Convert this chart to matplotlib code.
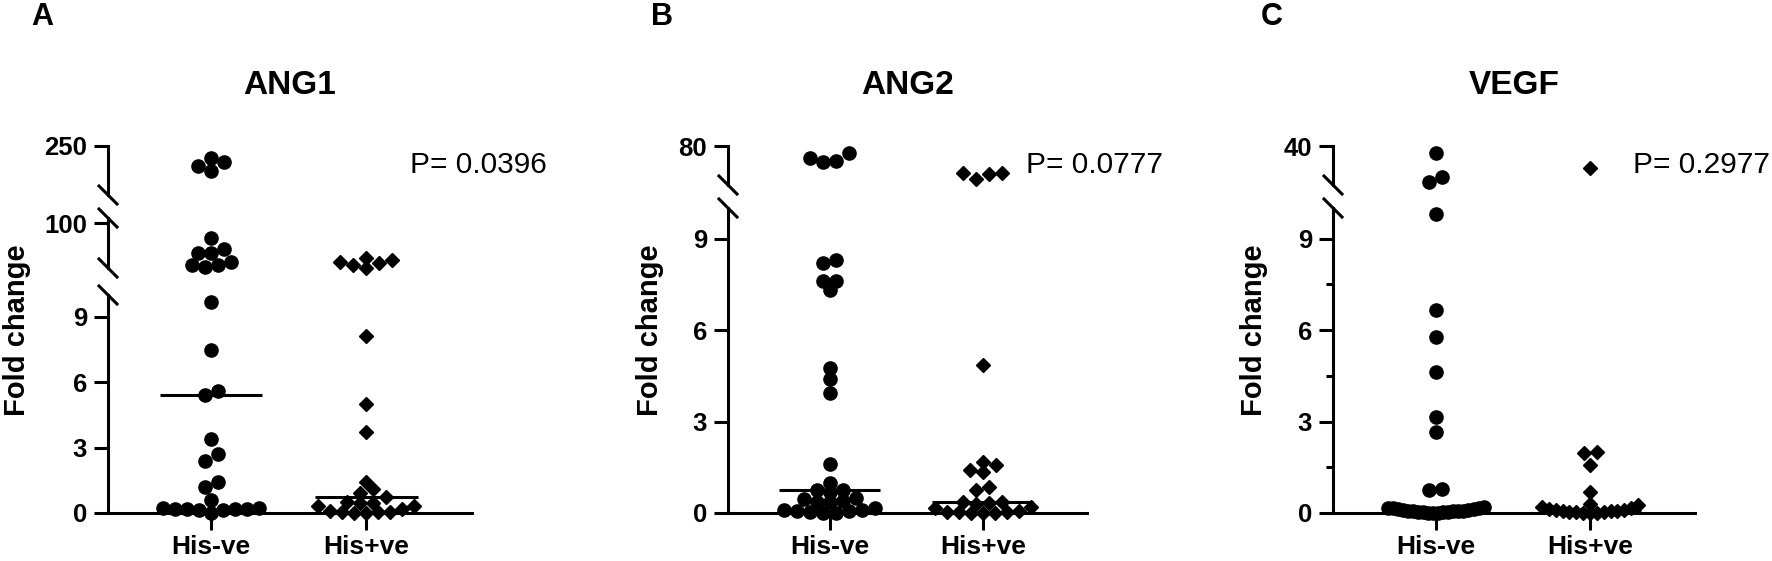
import numpy as np
import matplotlib.pyplot as plt
from matplotlib.lines import Line2D

plt.rcParams['font.family'] = ['Liberation Sans', 'DejaVu Sans']

# figure size in pixels
W, H = 1772, 561

groups = ["His-ve", "His+ve"]

# fold change values
ang1_neg = [225, 217, 209, 199, 70, 48, 40, 40, 22, 16, 16, 12,
            9.7, 7.5, 5.6, 5.4, 3.4, 2.7, 2.4, 1.4, 1.2, 0.6,
            0.25, 0.25, 0.2, 0.2, 0.2, 0.2, 0.15, 0.15, 0.0]
ang1_pos = [30, 26, 22, 20, 16, 11, 8.1, 5.0, 3.7, 1.4, 1.1, 0.9, 0.75,
            0.5, 0.45, 0.45, 0.3, 0.3, 0.2, 0.1, 0.05, 0.05, 0.05, 0.0, 0.0]

ang2_neg = [78.2, 76.9, 76.2, 75.9, 8.3, 8.2, 7.6, 7.6, 7.3, 4.75, 4.4, 3.95,
            1.6, 1.0, 0.75, 0.75, 0.7, 0.5, 0.45, 0.4, 0.35, 0.35,
            0.15, 0.1, 0.1, 0.06, 0.05, 0.02, 0.0, 0.0]
ang2_pos = [73.2, 73.0, 72.8, 71.6, 4.85, 1.67, 1.57, 1.4, 1.35, 0.85, 0.75,
            0.35, 0.35, 0.32, 0.3, 0.2, 0.15, 0.05, 0.03, 0.02, 0.02, 0.0, 0.0, 0.0]

vegf_neg = [36.4, 24.1, 21.5, 9.8, 6.65, 5.77, 4.63, 3.15, 2.66, 0.8, 0.75,
            0.2, 0.18, 0.15, 0.15, 0.12, 0.12, 0.1, 0.1, 0.08, 0.08,
            0.06, 0.05, 0.05, 0.04, 0.03, 0.02, 0.02, 0.01, 0.0, 0.0]
vegf_pos = [28.7, 2.0, 1.97, 1.57, 0.7,
            0.3, 0.25, 0.2, 0.15, 0.12, 0.1, 0.1, 0.08, 0.06, 0.05,
            0.04, 0.03, 0.02, 0.01, 0.0, 0.0]

titles = ["ANG1", "ANG2", "VEGF"]
letters = ["A", "B", "C"]
pvalues = ["P= 0.0396", "P= 0.0777", "P= 0.2977"]

# broken axis segments: (low, high, major ticks, minor ticks)
ang1_segs = [(0, 10, [0, 3, 6, 9], []), (10, 110, [100], []), (150, 250, [250], [])]
ang2_segs = [(0, 10, [0, 3, 6, 9], []), (70, 80, [80], [])]
vegf_segs = [(0, 10, [0, 3, 6, 9], [1.5, 4.5, 7.5]), (20, 40, [40], [])]

# ---- layout (pixels) ----
panel_x = [(108, 472), (728, 1087), (1333, 1695)]
seg_pix = [[(513, 295), (268, 218), (195, 146)],
           [(513, 208), (185, 146)],
           [(513, 208), (185, 146)]]
XLIM = (-0.665, 1.68)
LW = 2.2
DIAM = 13.0   # marker diameter in px
fig = plt.figure(figsize=(W / 100, H / 100), dpi=100)


def rect(x0, x1, ytop, ybot):
    return [x0 / W, 1 - ybot / H, (x1 - x0) / W, (ybot - ytop) / H]


def find_seg(v, segs):
    for i, s in enumerate(segs):
        if v <= s[1]:
            return i
    return len(segs) - 1


def swarm(vals, segs, pix, ppu):
    """Prism-like rows: values close in pixel height are spread sideways"""
    vals = np.asarray(vals, float)
    ypx = np.empty(len(vals))
    for i, v in enumerate(vals):
        k = find_seg(v, segs)
        lo, hi = segs[k][0], segs[k][1]
        yb, yt = pix[k]
        ypx[i] = yb - (v - lo) / (hi - lo) * (yb - yt)
    order = np.argsort(-ypx, kind="stable")
    offs = np.zeros(len(vals))
    rows, cur = [], [order[0]]
    for idx in order[1:]:
        if abs(ypx[idx] - ypx[cur[0]]) <= 9:
            cur.append(idx)
        else:
            rows.append(cur)
            cur = [idx]
    rows.append(cur)
    for row in rows:
        n = len(row)
        if n == 1:
            continue
        step = min(DIAM, 96.0 / (n - 1))
        slots = np.arange(n) - (n - 1) / 2
        # lowest values in the middle, higher ones towards the ends
        slots = sorted(slots, key=lambda s: (abs(s), s))
        for slot, idx in zip(slots, row):
            offs[idx] = slot * step / ppu
    return offs


def draw_panel(p, segs, neg, pos):
    x0, x1 = panel_x[p]
    pix = seg_pix[p]
    ppu = (x1 - x0) / (XLIM[1] - XLIM[0])
    axes = []
    for k, (lo, hi, ticks, minor) in enumerate(segs):
        yb, yt = pix[k]
        ax = fig.add_axes(rect(x0, x1, yt, yb))
        ax.patch.set_visible(False)
        ax.set_xlim(*XLIM)
        ax.set_ylim(lo, hi)
        for s in ["top", "right"]:
            ax.spines[s].set_visible(False)
        ax.spines["left"].set_linewidth(LW)
        ax.set_yticks(ticks)
        ax.set_yticks(minor, minor=True)
        ax.set_yticklabels([str(t) for t in ticks], fontsize=18.5, fontweight="bold")
        ax.tick_params(axis="y", which="major", length=10, width=LW, pad=5, direction="out")
        ax.tick_params(axis="y", which="minor", length=5, width=LW)
        if k == 0:
            ax.spines["bottom"].set_linewidth(LW)
            ax.set_xticks([0, 1])
            ax.set_xticklabels(groups, fontsize=19, fontweight="bold")
            ax.tick_params(axis="x", length=12, width=LW, pad=4)
        else:
            ax.spines["bottom"].set_visible(False)
            ax.set_xticks([])
        axes.append(ax)
        # break marks
        ends = []
        if k < len(segs) - 1:
            ends.append(yt)
        if k > 0:
            ends.append(yb)
        for ye in ends:
            fig.add_artist(Line2D([(x0 - 9) / W, (x0 + 9) / W],
                                  [1 - (ye - 9) / H, 1 - (ye + 9) / H],
                                  color="black", lw=LW, transform=fig.transFigure))

    for g, (vals, marker, ms) in enumerate([(neg, "o", 9.5), (pos, "D", 7.6)]):
        offs = swarm(vals, segs, pix, ppu)
        for v, o in zip(vals, offs):
            k = find_seg(v, segs)
            axes[k].plot(g + o, v, marker=marker, ms=ms, color="black",
                         ls="none", clip_on=False, zorder=3)
        med = np.median(vals)
        km = find_seg(med, segs)
        axes[km].plot([g - 0.33, g + 0.33], [med, med], color="black",
                      lw=LW, solid_capstyle="butt", clip_on=False, zorder=4)

    cx = (x0 + x1) / 2
    fig.text(cx / W, 1 - 85 / H, titles[p], ha="center", va="center",
             fontsize=24, fontweight="bold")
    ppx = x0 + (1.28 - XLIM[0]) * ppu
    fig.text(ppx / W, 1 - 165 / H, pvalues[p], ha="left", va="center", fontsize=21.5)


draw_panel(0, ang1_segs, ang1_neg, ang1_pos)
draw_panel(1, ang2_segs, ang2_neg, ang2_pos)
draw_panel(2, vegf_segs, vegf_neg, vegf_pos)

for lx, yl_x, letter in [(42, 17, "A"), (662, 650, "B"), (1272, 1254, "C")]:
    fig.text(lx / W, 1 - 17 / H, letter, ha="center", va="center",
             fontsize=22, fontweight="bold")
    fig.text(yl_x / W, 1 - 330 / H, "Fold change", ha="center", va="center",
             rotation=90, fontsize=21, fontweight="bold")

fig.savefig("out.png", dpi=100)
